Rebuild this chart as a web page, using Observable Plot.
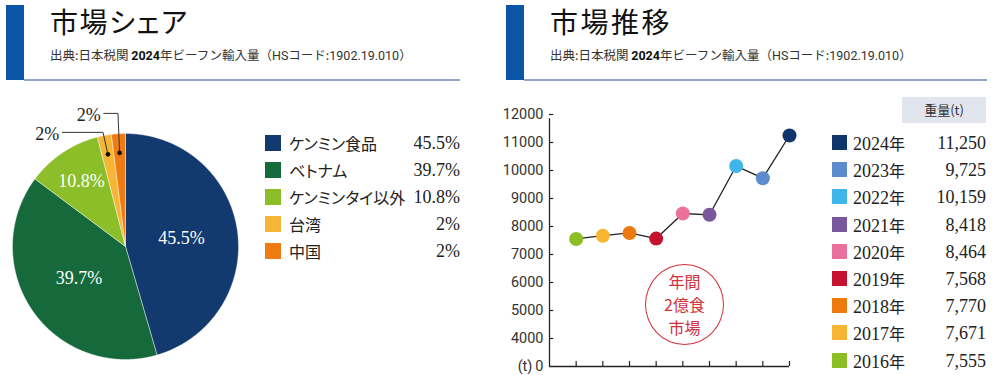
<!DOCTYPE html>
<html><head><meta charset="utf-8">
<script src="https://cdn.jsdelivr.net/npm/d3@7"></script>
<script src="https://cdn.jsdelivr.net/npm/@observablehq/plot@0.6"></script>
<style>
body{margin:0;width:1000px;height:375px;background:#fff;position:relative;overflow:hidden;font-family:"Noto Sans CJK JP",sans-serif;color:#222}
.bar{position:absolute;width:18px;height:75px;top:5px;background:#0b55a6}
.rule{position:absolute;height:2px;top:79px;background:#8ea5c6}
.title{position:absolute;top:6px;height:30px;line-height:30px;font-size:28px;font-weight:400;color:#111;font-feature-settings:"palt"}
.sub{position:absolute;top:47px;font-size:12.5px;line-height:16px;color:#333;white-space:nowrap}
.sub b{font-family:Roboto,"Noto Sans CJK JP";font-weight:700;color:#111}
.sub .n{font-family:Roboto,"Noto Sans CJK JP"}
.plot{position:absolute}
.row{position:absolute;height:20px;line-height:20px;white-space:nowrap}
.sw{position:absolute;top:2px;width:16px;height:16px}
.lab{position:absolute;font-size:16px;font-feature-settings:"palt";color:#222}
.num{position:absolute;font-family:"Liberation Serif",serif;font-size:18px;color:#222;text-align:right}
.yr{font-family:"Liberation Serif",serif;font-size:18px}
.head{position:absolute;left:902px;top:97px;width:84px;height:26px;line-height:26px;background:#e2e5ee;text-align:center;font-size:13px;color:#333}
.stamp{position:absolute;left:645px;top:264px;width:77px;height:79px;border:1.3px solid #d2323d;border-radius:50%;color:#d2323d;font-size:16px;line-height:23px;text-align:center;display:flex;align-items:center;justify-content:center}
</style></head>
<body>
<div class="bar" style="left:6px"></div>
<div class="rule" style="left:24px;width:436px"></div>
<div class="title" style="left:50px;letter-spacing:1.5px">市場シェア</div>
<div class="sub" style="left:50px">出典:日本税関 <b>2024</b>年ビーフン輸入量（<span class="n">HS</span>コード:<span class="n">1902.19.010</span>）</div>

<div class="bar" style="left:506px"></div>
<div class="rule" style="left:524px;width:463px"></div>
<div class="title" style="left:550px;letter-spacing:2.5px">市場推移</div>
<div class="sub" style="left:550px">出典:日本税関 <b>2024</b>年ビーフン輸入量（<span class="n">HS</span>コード:<span class="n">1902.19.010</span>）</div>

<div id="pie" class="plot" style="left:0;top:100px"></div>
<div id="pieLegend"></div>
<div id="line" class="plot" style="left:500px;top:100px"></div>
<div class="stamp"><div>年間<br>2億食<br>市場</div></div>
<div class="head">重量(t)</div>
<div id="lineLegend"></div>

<script>
// ---- market share data ----
const shareNames  = ["ケンミン食品","ベトナム","ケンミンタイ以外","台湾","中国"];
const shareValues = [45.5, 39.7, 10.8, 2, 2];
const shareLabels = ["45.5%","39.7%","10.8%","2%","2%"];
const shareColors = ["#123a6e","#15693a","#8bbe28","#f6b535","#ee7c13"];

// ---- market trend data ----
const years      = [2016,2017,2018,2019,2020,2021,2022,2023,2024];
const weights    = [7555,7671,7770,7568,8464,8418,10159,9725,11250];
const weightText = ["7,555","7,671","7,770","7,568","8,464","8,418","10,159","9,725","11,250"];
const yearColors = ["#8cbf26","#f7b531","#ec7a0e","#c4122f","#e9719b","#7a569d","#3fb6e9","#5c8cce","#10356a"];
const yTicks     = [3000,4000,5000,6000,7000,8000,9000,10000,11000,12000];

// ---------- pie ----------
const total = d3.sum(shareValues);
let acc = 0;
const slices = shareNames.map((name, i) => {
  const a0 = acc / total * 2 * Math.PI;
  acc += shareValues[i];
  const a1 = acc / total * 2 * Math.PI;
  return {name, value: shareValues[i], label: shareLabels[i], color: shareColors[i], a0, a1, mid: (a0 + a1) / 2};
});
const pts = [];
for (const s of slices) {
  pts.push({name: s.name, color: s.color, x: 0, y: 0});
  const n = Math.max(4, Math.ceil((s.a1 - s.a0) / 0.005));
  for (let k = 0; k <= n; k++) {
    const a = s.a0 + (s.a1 - s.a0) * k / n;
    pts.push({name: s.name, color: s.color, x: Math.sin(a), y: Math.cos(a)});
  }
  pts.push({name: s.name, color: s.color, x: 0, y: 0});
}
const big = slices.filter(s => s.value > 5).map(s => {
  const r = s.value > 20 ? 0.5 : 0.7;
  return {...s, x: r * Math.sin(s.mid), y: r * Math.cos(s.mid)};
});
const leaderLen = [0.36, 0.125];
const small = slices.filter(s => s.value <= 5).map((s, k) => {
  const dx = 0.83 * Math.sin(s.mid), dy = 0.83 * Math.cos(s.mid);
  const ex = dx * 1.28, ey = 1.01 + k * 0.168;
  return {...s, k, dx, dy, ex, ey, endx: ex - leaderLen[k]};
});
const leaderPts = small.flatMap(s => [
  {name: s.name, x: s.dx, y: s.dy},
  {name: s.name, x: s.ex, y: s.ey},
  {name: s.name, x: s.endx, y: s.ey}
]);

const pie = Plot.plot({
  width: 250, height: 260,
  marginLeft: 12, marginRight: 12, marginTop: 33, marginBottom: 1,
  x: {domain: [-1, 1], axis: null},
  y: {domain: [-1, 1], axis: null},
  color: {type: "identity"},
  marks: [
    Plot.line(pts, {x: "x", y: "y", z: "name", fill: "color", stroke: "#ffffff", strokeWidth: 0.6, strokeOpacity: 0.7, curve: "linear"}),
    Plot.text(big, {x: "x", y: "y", text: "label", fill: "white", fontSize: 18, fontFamily: "Liberation Serif, serif"}),
    Plot.line(leaderPts, {x: "x", y: "y", z: "name", stroke: "#333", strokeWidth: 1}),
    Plot.dot(small, {x: "dx", y: "dy", r: 2.3, fill: "#111"}),
    Plot.text(small, {x: "endx", y: "ey", text: "label", textAnchor: "end", dx: -3, dy: 2, fontSize: 18, fill: "#222", fontFamily: "Liberation Serif, serif"})
  ]
});
document.getElementById("pie").appendChild(pie);

// pie legend
const pl = document.getElementById("pieLegend");
slices.forEach((s, i) => {
  const top = 133 + i * 27;
  const row = document.createElement("div");
  row.className = "row";
  row.style.cssText = `left:0;top:${top}px;width:470px`;
  row.innerHTML = `<div class="sw" style="left:265px;background:${s.color}"></div>
    <div class="lab" style="left:289px">${s.name}</div>
    <div class="num" style="left:380px;width:80px">${s.label}</div>`;
  pl.appendChild(row);
});

// ---------- line chart ----------
const trend = years.map((y, i) => ({year: y, w: weights[i], color: yearColors[i]}));
const line = Plot.plot({
  width: 300, height: 275,
  marginLeft: 49, marginRight: 11, marginTop: 14, marginBottom: 9,
  x: {domain: [2015, 2024], axis: null},
  y: {domain: [3000, 12000], axis: null},
  color: {type: "identity"},
  style: {overflow: "visible"},
  marks: [
    Plot.axisY({ticks: yTicks, tickSize: 0, tickPadding: 6, fontSize: 14.5, fontFamily: "Roboto, sans-serif", color: "#333", label: null,
      tickFormat: d => d === 3000 ? "(t)\u20090" : String(d)}),
    Plot.ruleY(yTicks.slice(1), {x1: 2015, x2: 2015.16, stroke: "#222", strokeWidth: 1.2}),
    Plot.ruleX([2015], {y1: 3000, y2: 11850, stroke: "#222", strokeWidth: 1.3}),
    Plot.ruleY([3000], {x1: 2015, x2: 2024, stroke: "#222", strokeWidth: 1.3}),
    Plot.ruleX(years, {y1: 3000, y2: 3180, stroke: "#222", strokeWidth: 1.2}),
    Plot.line(trend, {x: "year", y: "w", stroke: "#222", strokeWidth: 1.3}),
    Plot.dot(trend, {x: "year", y: "w", r: 7, fill: "color"})
  ]
});
document.getElementById("line").appendChild(line);

// trend legend (newest first)
const ll = document.getElementById("lineLegend");
years.map((y, i) => i).reverse().forEach((i, k) => {
  const top = 133 + k * 27.2;
  const row = document.createElement("div");
  row.className = "row";
  row.style.cssText = `left:0;top:${top}px;width:990px`;
  row.innerHTML = `<div class="sw" style="left:832px;width:15px;height:15px;background:${yearColors[i]}"></div>
    <div class="lab" style="left:853px"><span class="yr">${years[i]}</span>年</div>
    <div class="num" style="left:906px;width:80px">${weightText[i]}</div>`;
  ll.appendChild(row);
});
</script>
</body></html>
